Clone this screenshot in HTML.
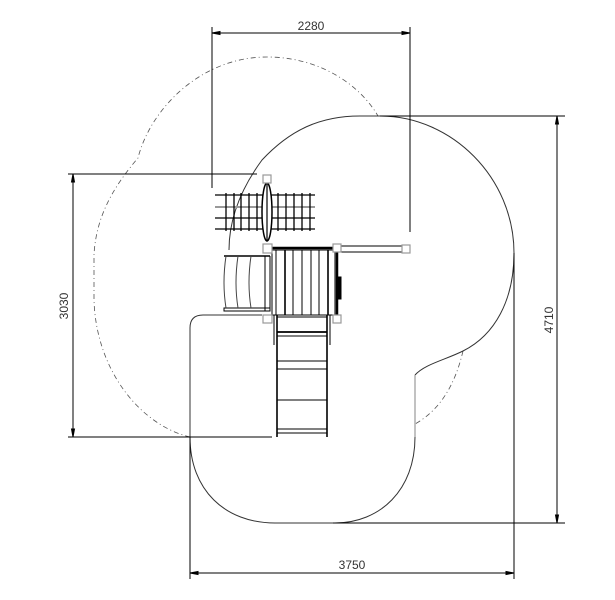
<!DOCTYPE html>
<html><head><meta charset="utf-8"><style>html,body{margin:0;padding:0;background:#fff}svg{display:block}</style></head><body>
<svg width="615" height="600" viewBox="0 0 615 600" xmlns="http://www.w3.org/2000/svg" font-family="Liberation Sans, sans-serif">
<g fill="none" stroke="#000" stroke-width="1">
<!-- dashed zone -->
<path d="M190,437 C140,425 96,370 94,300 L94,255 C96,215 115,185 138,158 C150,110 200,57 267,57 C320,57 360,85 378,116" stroke="#555" stroke-dasharray="5,3,1,3" stroke-width="0.8"/>
<path d="M463,351 C455,385 440,410 415,424" stroke="#555" stroke-dasharray="5,3,1,3" stroke-width="0.8"/>
<!-- solid zone -->
<path d="M229,250 C229,220 240,190 262,160 C290,130 320,116 360,116 L380,116 C452,116 514,178 514,253 C514,300 495,335 463,351 C445,360 425,364 415,375" stroke="#333"/>
<path d="M415,375 L415,437" stroke="#999" stroke-width="1.2"/>
<path d="M415,437 C415,490 380,523 335,523 L275,523 C225,523 190,490 190,437 L190,328 Q190,315 203,315 L262,315" stroke="#333"/>
<!-- dimensions -->
<line x1="212" y1="27" x2="212" y2="188"/><line x1="410" y1="27" x2="410" y2="232"/>
<line x1="212" y1="33" x2="410" y2="33"/>
<path d="M212,33 l8,-1.5 v3 z M410,33 l-8,-1.5 v3 z" fill="#000"/>
<line x1="380" y1="116" x2="565" y2="116"/><line x1="333" y1="523" x2="565" y2="523"/>
<line x1="557" y1="116" x2="557" y2="523"/>
<path d="M557,116 l-1.5,8 h3 z M557,523 l-1.5,-8 h3 z" fill="#000"/>
<line x1="68" y1="174" x2="257" y2="174"/><line x1="68" y1="437" x2="272" y2="437"/>
<line x1="73" y1="174" x2="73" y2="437"/>
<path d="M73,174 l-1.5,8 h3 z M73,437 l-1.5,-8 h3 z" fill="#000"/>
<line x1="190" y1="437" x2="190" y2="579"/><line x1="514" y1="253" x2="514" y2="579"/>
<line x1="190" y1="573" x2="514" y2="573"/>
<path d="M190,573 l8,-1.5 v3 z M514,573 l-8,-1.5 v3 z" fill="#000"/>
<!-- ladders (rope) -->
<g stroke-width="1.3">
<line x1="215" y1="195" x2="264" y2="195"/><line x1="215" y1="218" x2="264" y2="218"/><line x1="215" y1="229" x2="264" y2="229"/>
<line x1="270" y1="195" x2="315" y2="195"/><line x1="270" y1="218" x2="315" y2="218"/><line x1="270" y1="229" x2="315" y2="229"/>
</g>
<line x1="215" y1="207" x2="315" y2="207" stroke="#999" stroke-width="2"/>
<g stroke-width="1.3">
<line x1="226" y1="193" x2="226" y2="231"/><line x1="234" y1="193" x2="234" y2="231"/><line x1="241" y1="193" x2="241" y2="231"/><line x1="249" y1="193" x2="249" y2="231"/><line x1="257" y1="193" x2="257" y2="231"/>
<line x1="278" y1="193" x2="278" y2="231"/><line x1="286" y1="193" x2="286" y2="231"/><line x1="294" y1="193" x2="294" y2="231"/><line x1="302" y1="193" x2="302" y2="231"/><line x1="310" y1="193" x2="310" y2="231"/>
</g>
<ellipse cx="267" cy="212" rx="5" ry="29" fill="#fff" stroke-width="1.5"/>
<line x1="267" y1="184" x2="267" y2="241" stroke-width="1.2"/>
<!-- slide -->
<line x1="224" y1="256" x2="270" y2="256" stroke-width="1.5"/>
<rect x="224" y="308" width="46" height="3"/>
<path d="M226,256 Q222,283 226,308 M238,256 Q234,283 238,308 M251,256 Q247,283 251,308" stroke="#444"/>
<line x1="265" y1="256" x2="265" y2="311"/><line x1="270" y1="256" x2="270" y2="311"/>
<!-- deck -->
<line x1="272" y1="248" x2="337" y2="248" stroke-width="2.5"/>
<rect x="272" y="250" width="63" height="65"/>
<g><line x1="276" y1="250" x2="276" y2="315"/><line x1="285" y1="250" x2="285" y2="315" stroke-width="1.6"/><line x1="293" y1="250" x2="293" y2="315"/><line x1="302" y1="250" x2="302" y2="315"/><line x1="311" y1="250" x2="311" y2="315"/><line x1="319" y1="250" x2="319" y2="315"/><line x1="328" y1="250" x2="328" y2="315" stroke-width="1.6"/></g>
<line x1="337" y1="250" x2="337" y2="315" stroke-width="2.5"/>
<rect x="337" y="277" width="4" height="22" fill="#000"/>
<rect x="339" y="246" width="66" height="6"/>
<!-- ladder -->
<line x1="277" y1="315" x2="277" y2="437" stroke-width="1.6"/><line x1="327" y1="315" x2="327" y2="437" stroke-width="1.6"/>
<line x1="274" y1="315" x2="274" y2="345"/><line x1="330" y1="315" x2="330" y2="345"/>
<line x1="277" y1="317" x2="327" y2="317"/><line x1="277" y1="332" x2="327" y2="332" stroke-width="1.8"/><line x1="277" y1="336" x2="327" y2="336"/>
<line x1="277" y1="361" x2="327" y2="361"/><line x1="277" y1="369" x2="327" y2="369"/><line x1="277" y1="400" x2="327" y2="400"/><line x1="277" y1="429" x2="327" y2="429"/><line x1="277" y1="433" x2="327" y2="433"/>
<!-- posts -->
<g stroke="#999" fill="#fff" stroke-width="1.2">
<rect x="263" y="175" width="8" height="8"/><rect x="263" y="244" width="9" height="9"/><rect x="333" y="244" width="8" height="8"/><rect x="402" y="245" width="8" height="8"/><rect x="263" y="315" width="9" height="8"/><rect x="333" y="315" width="8" height="8"/>
</g>
</g>
<g font-size="12" fill="#333" text-anchor="middle">
<text x="311" y="30">2280</text>
<text x="352" y="569">3750</text>
<text transform="translate(68,306) rotate(-90)">3030</text>
<text transform="translate(553,320) rotate(-90)">4710</text>
</g>
</svg>
</body></html>
